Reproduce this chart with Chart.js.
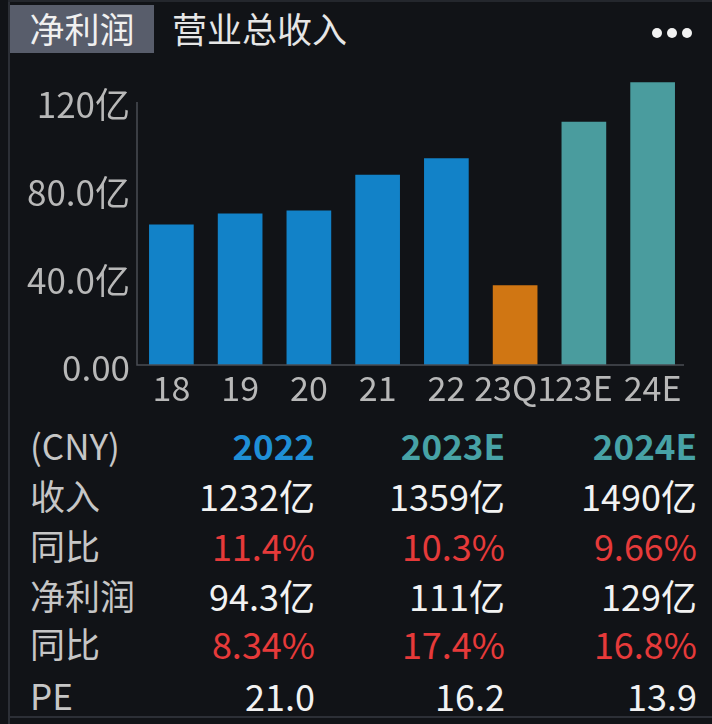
<!DOCTYPE html>
<html>
<head>
<meta charset="utf-8">
<script src="https://cdn.jsdelivr.net/npm/chart.js@4/dist/chart.umd.min.js"></script>
<style>
  html, body { margin: 0; padding: 0; background: #111317; }
  body { width: 712px; height: 724px; position: relative; overflow: hidden;
         font-family: "Noto Sans CJK SC", "Noto Sans", sans-serif; }
  .frame-left { position: absolute; left: 8px; top: 0; width: 2px; height: 724px; background: #2c2f36; }
  .frame-top { position: absolute; left: 8px; top: 0; width: 704px; height: 2px; background: #24272d; }
  .frame-bottom { position: absolute; left: 8px; top: 716px; width: 704px; height: 2px; background: #2c2f36; }
  .tab { position: absolute; top: 5px; height: 48px; line-height: 46px; font-size: 35px; color: #f0f0f0; }
  .tab.active { left: 10px; width: 144px; background: #585d6b; text-align: center; }
  .tab.other { left: 172px; color: #e6e6e6; }
  .dot { position: absolute; top: 28px; width: 10px; height: 10px; border-radius: 50%; background: #f2f2f2; }
  #wrap { position: absolute; left: 0; top: 52px; width: 712px; height: 363px; }
  .cell { position: absolute; height: 50px; line-height: 50px; white-space: nowrap; }
  .lab { left: 30px; color: #c6c6c6; font-size: 35px; }
  .val { text-align: right; font-size: 36px; color: #f2f2f2; }
  .hdr { font-weight: bold; font-size: 35px; }
</style>
</head>
<body>
<div class="frame-left"></div>
<div class="frame-top"></div>
<div class="frame-bottom"></div>
<div class="tab active">净利润</div>
<div class="tab other">营业总收入</div>
<div class="dot" style="left:652px"></div>
<div class="dot" style="left:667px"></div>
<div class="dot" style="left:682px"></div>
<div id="wrap"><canvas id="c"></canvas></div>
<div id="table"></div>
<script>
// ---- chart data ----
const categories = ['18', '19', '20', '21', '22', '23Q1', '23E', '24E'];
const netProfit = [64.1, 69.1, 70.5, 86.8, 94.3, 36.4, 111, 129];
const barColors = ['#1282c8', '#1282c8', '#1282c8', '#1282c8', '#1282c8', '#d07613', '#4a9c9e', '#4a9c9e'];
const yTickValues = [0, 40, 80, 120];
const yTickLabels = ['0.00', '40.0亿', '80.0亿', '120亿'];

// ---- table data ----
const tableUnit = '(CNY)';
const tableYears = ['2022', '2023E', '2024E'];
const tableRowNames = ['收入', '同比', '净利润', '同比', 'PE'];
const revenue = ['1232亿', '1359亿', '1490亿'];
const revenueYoy = ['11.4%', '10.3%', '9.66%'];
const profit = ['94.3亿', '111亿', '129亿'];
const profitYoy = ['8.34%', '17.4%', '16.8%'];
const peRatio = ['21.0', '16.2', '13.9'];

const axisLines = {
  id: 'axisLines',
  afterDatasetsDraw(chart) {
    const { ctx, chartArea, scales } = chart;
    const y0 = scales.y.getPixelForValue(0);
    const yTop = scales.y.getPixelForValue(120);
    ctx.save();
    ctx.strokeStyle = '#4a4d54';
    ctx.lineWidth = 1.5;
    ctx.beginPath();
    ctx.moveTo(chartArea.left, yTop);
    ctx.lineTo(chartArea.left, y0);
    ctx.lineTo(chartArea.right - 3, y0);
    ctx.stroke();
    ctx.restore();
  }
};

new Chart(document.getElementById('c'), {
  type: 'bar',
  data: {
    labels: categories,
    datasets: [{ data: netProfit, backgroundColor: barColors, barPercentage: 0.65, categoryPercentage: 1 }]
  },
  options: {
    responsive: true,
    maintainAspectRatio: false,
    animation: false,
    devicePixelRatio: 1,
    layout: { padding: { left: 0, right: 25, top: 12, bottom: 0 } },
    plugins: { legend: { display: false }, tooltip: { enabled: false } },
    scales: {
      x: {
        grid: { display: false, drawTicks: false },
        border: { display: false },
        ticks: { color: '#b8b8b8', font: { size: 34, family: '"Noto Sans CJK SC"' }, padding: 3, autoSkip: false, maxRotation: 0 },
        afterFit(s) { s.height = 50; }
      },
      y: {
        min: 0, max: 130,
        grid: { display: false, drawTicks: false },
        border: { display: false },
        afterBuildTicks(s) { s.ticks = yTickValues.map(v => ({ value: v })); },
        ticks: {
          color: '#b8b8b8', font: { size: 35, family: '"Noto Sans CJK SC"' }, padding: 7, labelOffset: 3,
          callback(v) { const i = yTickValues.indexOf(v); return i >= 0 ? yTickLabels[i] : ''; }
        },
        afterFit(s) { s.width = 137; }
      }
    }
  },
  plugins: [axisLines]
});

// ---- table ----
const table = document.getElementById('table');
const colRight = [315, 505, 697];
const rowCenters = [445, 495, 545, 595, 643, 695];
function addCell(text, cls, top, style) {
  const d = document.createElement('div');
  d.className = 'cell ' + cls;
  d.textContent = text;
  d.style.top = (top - 25) + 'px';
  Object.assign(d.style, style || {});
  table.appendChild(d);
}
addCell(tableUnit, 'lab', rowCenters[0]);
const hdrColors = ['#1f8fd6', '#47a2a6', '#47a2a6'];
tableYears.forEach((y, i) => addCell(y, 'val hdr', rowCenters[0], { right: (712 - colRight[i]) + 'px', color: hdrColors[i] }));
const rows = [revenue, revenueYoy, profit, profitYoy, peRatio];
const rowRed = [false, true, false, true, false];
rows.forEach((arr, r) => {
  addCell(tableRowNames[r], 'lab', rowCenters[r + 1]);
  arr.forEach((v, i) => addCell(v, 'val', rowCenters[r + 1], { right: (712 - colRight[i]) + 'px', color: rowRed[r] ? '#e63a3a' : '#f2f2f2' }));
});
</script>
</body>
</html>
